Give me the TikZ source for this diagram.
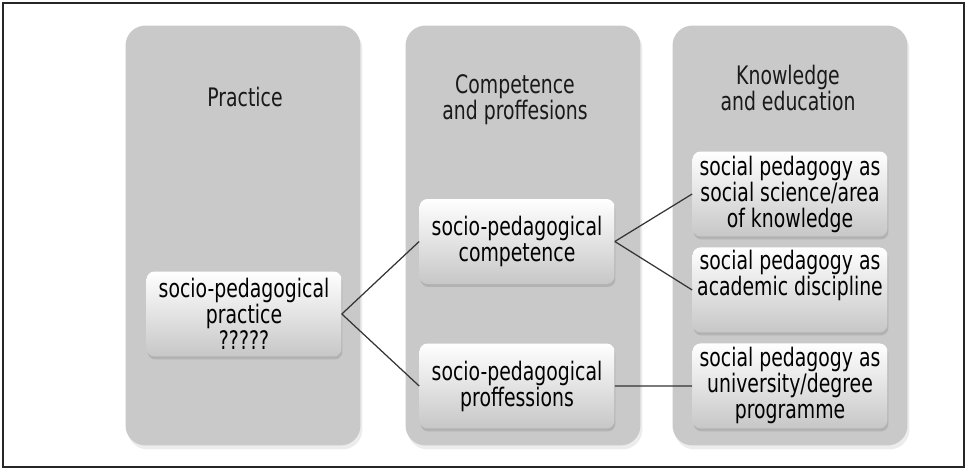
\documentclass[tikz,border=0pt]{standalone}
\usepackage{fontspec}
\setmainfont{DejaVu Sans}[FakeStretch=0.74]
\usetikzlibrary{positioning,shadows}

\begin{document}
\begin{tikzpicture}[x=0.02cm, y=-0.02cm, node distance=1.92cm, font=\fontsize{14.5}{14.8}\selectfont]
    \tikzstyle{column} = [rectangle, rounded corners=0.4cm, fill=black!21, minimum width=4.7cm, minimum height=8.4cm, drop shadow={opacity=0.15, shadow xshift=0.04cm, shadow yshift=-0.08cm}]
    \tikzstyle{heading} = [align=center, text=black!90]
    \tikzstyle{item} = [rectangle, rounded corners=0.16cm, top color=white, middle color=black!2, bottom color=black!22, align=center, inner sep=1pt, minimum width=3.9cm, minimum height=1.7cm, drop shadow={opacity=0.3, shadow xshift=0.02cm, shadow yshift=-0.06cm}]
    \tikzstyle{link} = [line width=0.7pt, draw=black!80]

    \useasboundingbox (0,0) rectangle (967,469);
    \draw[line width=1.1pt, black!85] (3,3) rectangle (964,467);

    \node[column] (practicecol) at (243,235.5) {};
    \node[column] (competencecol) at (523,235.5) {};
    \node[column] (knowledgecol) at (790,235.5) {};

    \node[heading] (practicehead) at (245,97) {Practice};
    \node[heading] (competencehead) at (515,100) {Competence\\and proffesions};
    \node[heading] (knowledgehead) at (788,88.5) {Knowledge\\and education};

    \node[item] (practice) at (244,314) {socio-pedagogical\\practice\\?????};
    \node[item] (competence) at (517,241.5) {socio-pedagogical\\competence};
    \node[item] (professions) at (517,386) {socio-pedagogical\\proffessions};
    \node[item] (science) at (790,194) {social pedagogy as\\social science/area\\of knowledge};
    \node[item, below of=science] (discipline) {social pedagogy as\\academic discipline\\\strut};
    \node[item, below of=discipline] (programme) {social pedagogy as\\university/degree\\programme};

    \draw[link] (practice.east) -- (competence.west);
    \draw[link] (practice.east) -- (professions.west);
    \draw[link] (competence.east) -- (science.west);
    \draw[link] (competence.east) -- (discipline.west);
    \draw[link] (professions.east) -- (programme.west);
\end{tikzpicture}
\end{document}
